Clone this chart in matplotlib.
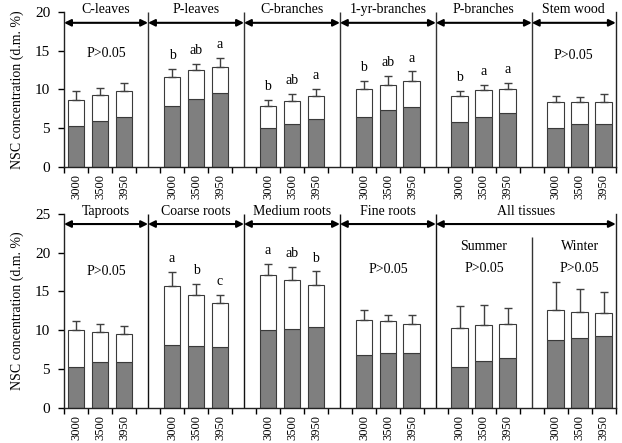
import numpy as np
import matplotlib
matplotlib.use('Agg')
import matplotlib.pyplot as plt

plt.rcParams['font.family'] = ['Liberation Serif', 'DejaVu Serif']

# elevations (m) on the x axis
elevations = ['3000', '3500', '3950']

# top row: above-ground tissues
top_groups = ['C-leaves', 'P-leaves', 'C-branches', '1-yr-branches', 'P-branches', 'Stem wood']
top_lower = [[5.3, 5.9, 6.4], [7.9, 8.8, 9.5], [5.0, 5.5, 6.2],
             [6.4, 7.4, 7.8], [5.8, 6.5, 7.0], [5.0, 5.5, 5.5]]
top_total = [[8.6, 9.35, 9.85], [11.6, 12.45, 12.9], [7.9, 8.55, 9.1],
             [10.05, 10.6, 11.1], [9.1, 9.9, 10.1], [8.45, 8.45, 8.45]]
top_err = [[1.15, 0.9, 0.95], [1.1, 0.9, 1.2], [0.8, 0.85, 0.95],
           [1.05, 1.2, 1.25], [0.75, 0.7, 0.8], [0.75, 0.6, 0.95]]
top_letters = [None, ['b', 'ab', 'a'], ['b', 'ab', 'a'], ['b', 'ab', 'a'], ['b', 'a', 'a'], None]

# bottom row: roots and all tissues (summer / winter)
bot_groups = ['Taproots', 'Coarse roots', 'Medium roots', 'Fine roots', 'All tissues']
bot_lower = [[5.3, 5.85, 5.85], [8.1, 8.0, 7.85], [10.05, 10.2, 10.45],
             [6.85, 7.0, 7.1], [5.3, 6.0, 6.35], [8.75, 9.0, 9.3]]
bot_total = [[10.0, 9.8, 9.55], [15.75, 14.6, 13.5], [17.1, 16.5, 15.85],
             [11.35, 11.2, 10.85], [10.3, 10.65, 10.75], [12.55, 12.35, 12.25]]
bot_err = [[1.2, 1.05, 1.0], [1.8, 1.35, 1.05], [1.5, 1.65, 1.75],
           [1.25, 0.8, 1.1], [2.85, 2.55, 2.15], [3.65, 2.9, 2.7]]
bot_letters = [None, ['a', 'b', 'c'], ['a', 'ab', 'b'], None, None, None]
seasons = ['Summer', 'Winter']

GREY = '#7f7f7f'
EDGE = '#3a3a3a'


def draw_bars(ax, lower, total, err, letters):
    for g in range(len(lower)):
        x = np.arange(3) + 4 * g
        lo = np.array(lower[g])
        tot = np.array(total[g])
        ax.bar(x, lo, width=0.7, color=GREY, edgecolor=EDGE, lw=0.8, zorder=2)
        ax.bar(x, tot - lo, bottom=lo, width=0.7, color='white', edgecolor=EDGE, lw=0.8, zorder=2)
        ax.errorbar(x, tot, yerr=[np.zeros(3), err[g]], fmt='none', ecolor='#404040',
                    elinewidth=1, capsize=3, capthick=1, zorder=3)
        if letters[g]:
            for xi, t, e, s in zip(x, tot, err[g], letters[g]):
                ax.annotate(s, (xi, t + e), xytext=(0, 7), textcoords='offset points',
                            ha='center', va='baseline', fontsize=10)


def style_axis(ax, ymax):
    ax.set_xlim(-0.5, 22.5)
    ax.set_ylim(0, ymax)
    ax.set_yticks(np.arange(0, ymax + 1, 5))
    centers = [4 * g + i for g in range(6) for i in range(3)]
    ax.set_xticks(centers)
    ax.set_xticklabels(elevations * 6, rotation=90, fontsize=9)
    ax.set_xticks(np.arange(-0.5, 23, 1), minor=True)
    ax.tick_params(axis='x', which='major', length=0, pad=5)
    ax.tick_params(axis='x', which='minor', length=4, direction='out', width=1)
    ax.tick_params(axis='y', length=4, direction='out', width=1, labelsize=11, pad=6)
    ax.spines['top'].set_visible(False)
    for s in ['left', 'bottom', 'right']:
        ax.spines[s].set_linewidth(1)
        ax.spines[s].set_color('#222222')
    ax.set_ylabel('NSC concentration (d.m. %)', fontsize=10, labelpad=8)


def headers(ax, spans, names, y_arrow, y_text):
    for (x0, x1), name in zip(spans, names):
        ax.annotate('', xy=(x1, y_arrow), xytext=(x0, y_arrow),
                    arrowprops=dict(arrowstyle='<|-|>', color='black', lw=1.5,
                                    mutation_scale=10, shrinkA=0, shrinkB=0),
                    annotation_clip=False)
        ax.text((x0 + x1) / 2, y_text, name, ha='center', va='center',
                fontsize=10, clip_on=False)


fig = plt.figure(figsize=(6.22, 4.43), dpi=100)
ax1 = fig.add_axes([0.103, 0.623, 0.887, 0.350])
ax2 = fig.add_axes([0.103, 0.080, 0.887, 0.437])

# top panel
draw_bars(ax1, top_lower, top_total, top_err, top_letters)
style_axis(ax1, 20)
ax1.vlines([3, 7, 11, 15, 19], 0, 20, color='#333333', lw=1, zorder=1)
top_spans = [(-0.5, 3), (3, 7), (7, 11), (11, 15), (15, 19), (19, 22.5)]
headers(ax1, top_spans, top_groups, 18.6, 20.35)
ax1.text(1.25, 14.6, 'P>0.05', ha='center', va='center', fontsize=10)
ax1.text(20.75, 14.4, 'P>0.05', ha='center', va='center', fontsize=10)

# bottom panel
draw_bars(ax2, bot_lower, bot_total, bot_err, bot_letters)
style_axis(ax2, 25)
ax2.vlines([3, 7, 11, 15], 0, 25, color='#111111', lw=1, zorder=1)
ax2.vlines([19], 0, 22, color='#333333', lw=1, zorder=1)
bot_spans = [(-0.5, 3), (3, 7), (7, 11), (11, 15), (15, 22.5)]
headers(ax2, bot_spans, bot_groups, 23.7, 25.3)
ax2.text(1.25, 17.6, 'P>0.05', ha='center', va='center', fontsize=10)
ax2.text(13, 17.8, 'P>0.05', ha='center', va='center', fontsize=10)
for xc, name in zip([17, 21], seasons):
    ax2.text(xc, 20.8, name, ha='center', va='center', fontsize=10)
    ax2.text(xc, 17.9, 'P>0.05', ha='center', va='center', fontsize=10)

fig.savefig('out.png', dpi=100)
